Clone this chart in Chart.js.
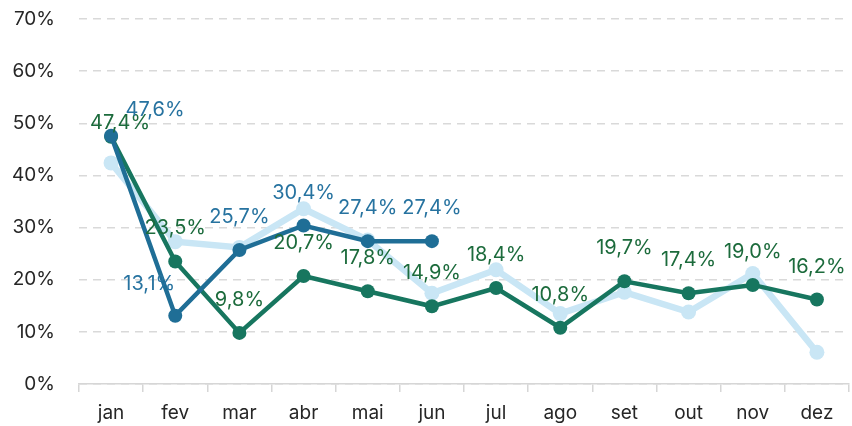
<!DOCTYPE html>
<html><head><meta charset="utf-8">
<script src="https://cdn.jsdelivr.net/npm/chart.js@4"></script>
<style>html,body{margin:0;padding:0;background:#fff}#c{display:block}</style>
</head><body>
<canvas id="c" width="852" height="426"></canvas>
<script>
const categories = ['jan','fev','mar','abr','mai','jun','jul','ago','set','out','nov','dez'];
const lightBlueValues = [42.4, 27.3, 26.2, 33.6, 27.6, 17.4, 21.9, 13.5, 17.6, 13.8, 21.2, 6.1];
const greenValues = [47.4, 23.5, 9.8, 20.7, 17.8, 14.9, 18.4, 10.8, 19.7, 17.4, 19.0, 16.2];
const blueValues = [47.6, 13.1, 25.7, 30.4, 27.4, 27.4];
const yTicks = [0,10,20,30,40,50,60,70];

// label offsets (dx, dy) relative to point, for the labelled series
const greenLabelOffsets = [[9,-14]];
const blueLabelOffsets = [[44,-26],[-26,-32]];
const defaultLabelOffset = [0,-33];

const fmt = v => v.toFixed(1).replace('.', ',') + '%';
const FONT = 'Inter, "Open Sans", sans-serif';

const labelPlugin = {
  id: 'pointLabels',
  afterDatasetsDraw(chart) {
    const ctx = chart.ctx;
    ctx.save();
    ctx.font = '20px ' + FONT;
    ctx.textAlign = 'center';
    ctx.textBaseline = 'middle';
    chart.data.datasets.forEach((ds, i) => {
      if (!ds.labelColor) return;
      const meta = chart.getDatasetMeta(i);
      meta.data.forEach((pt, j) => {
        const off = ds.labelOffsets[j] || defaultLabelOffset;
        ctx.fillStyle = ds.labelColor;
        ctx.fillText(fmt(ds.data[j]), pt.x + off[0], pt.y + off[1]);
      });
    });
    ctx.restore();
  }
};

new Chart(document.getElementById('c'), {
  type: 'line',
  data: {
    labels: categories,
    datasets: [
      { data: lightBlueValues, borderColor: '#C9E6F5', backgroundColor: '#C9E6F5', borderWidth: 6.5,
        pointRadius: 7.5, pointBorderWidth: 0, pointBackgroundColor: '#C9E6F5', order: 3 },
      { data: greenValues, borderColor: '#17765F', backgroundColor: '#17765F', borderWidth: 4.5,
        pointRadius: 7, pointBorderWidth: 0, pointBackgroundColor: '#17765F', order: 2,
        labelColor: '#1C6B3C', labelOffsets: greenLabelOffsets },
      { data: blueValues, borderColor: '#1F6E96', backgroundColor: '#1F6E96', borderWidth: 4.5,
        pointRadius: 7, pointBorderWidth: 0, pointBackgroundColor: '#1F6E96', order: 1,
        labelColor: '#2773A0', labelOffsets: blueLabelOffsets }
    ]
  },
  options: {
    responsive: false,
    animation: false,
    layout: { autoPadding: false, padding: { top: 0, right: 3, left: 0, bottom: 0 } },
    plugins: { legend: { display: false }, tooltip: { enabled: false } },
    elements: { line: { tension: 0 } },
    scales: {
      x: {
        offset: true,
        afterFit: s => { s.height = 42; s.paddingLeft = 0; s.paddingRight = 0; },
        grid: { offset: true, drawOnChartArea: false, drawTicks: true, tickLength: 8, color: '#D6D6D6', lineWidth: 1.5 },
        border: { display: true, color: '#D6D6D6', width: 1.5 },
        ticks: { color: '#262626', font: { size: 19, family: FONT }, padding: 10 }
      },
      y: {
        min: 0, max: 70,
        afterBuildTicks: s => { s.ticks = yTicks.map(v => ({ value: v })); },
        afterFit: s => { s.width = 79; s.paddingTop = 19; s.paddingBottom = 0; },
        grid: { color: '#D9D9D9', lineWidth: 1.5, drawTicks: false },
        border: { display: false, dash: [8, 6] },
        ticks: { color: '#262626', font: { size: 19, family: FONT }, padding: 24,
                 callback: v => v + '%' }
      }
    }
  },
  plugins: [labelPlugin]
});
</script>
</body></html>
